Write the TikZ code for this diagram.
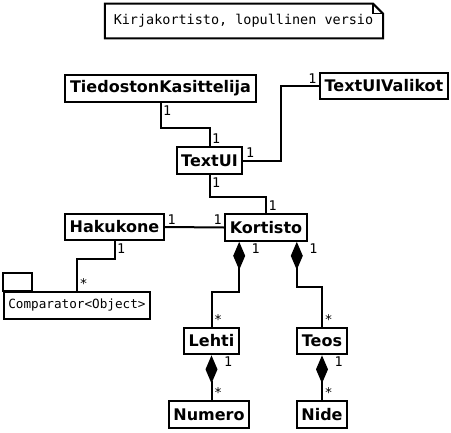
\documentclass[tikz,border=0pt]{standalone}
\usepackage{fontspec}
\setsansfont{DejaVu Sans}
\setmonofont{DejaVu Sans Mono}
\usetikzlibrary{arrows.meta}

\tikzset{
  luokka/.style={draw, line width=1.5pt, font=\sffamily\bfseries\fontsize{12}{14}\selectfont, inner xsep=3.5pt, minimum height=20pt},
  liitos/.style={line width=1.5pt},
  kooste/.style={liitos, {Diamond[length=21pt, width=9pt]}-},
  lkm/.style={font=\ttfamily\fontsize{10}{11}\selectfont, inner sep=1.2pt},
}

\begin{document}
\begin{tikzpicture}[x=0.75pt, y=-0.75pt]
  \useasboundingbox (0,0) rectangle (451,433);

  % Note
  \node[font=\ttfamily\fontsize{10.1}{12}\selectfont, minimum width=209pt, minimum height=25.5pt] (note) at (243.5,21) {Kirjakortisto, lopullinen versio};
  \draw[line width=1.5pt] ([xshift=0.75pt]note.north west) -- ([xshift=-7.5pt]note.north east) -- ([yshift=-7.5pt]note.north east) -- (note.south east) -- ([xshift=0.75pt]note.south west) -- cycle;
  \draw[line width=1pt] ([xshift=-7.5pt]note.north east) -- ([xshift=-7.5pt, yshift=-7.5pt]note.north east) -- ([yshift=-7.5pt]note.north east);

  % Classes
  \node[luokka] (tk) at (160.5,88.5) {TiedostonKasittelija};
  \node[luokka] (tuv) at (384,86) {TextUIValikot};
  \node[luokka] (tui) at (209.5,160.5) {TextUI};
  \node[luokka] (hak) at (114.5,227) {Hakukone};
  \node[luokka] (kor) at (266,227.5) {Kortisto};
  \node[luokka, font=\ttfamily\fontsize{9.5}{11}\selectfont] (comp) at (77,305.5) {Comparator<Object>};
  \draw[line width=1.5pt] (comp.north west) rectangle ++(29,-18);
  \node[luokka] (leh) at (211.5,341) {Lehti};
  \node[luokka] (teo) at (322,341) {Teos};
  \node[luokka] (num) at (209,414.5) {Numero};
  \node[luokka] (nid) at (322,414.5) {Nide};

  % Associations
  \draw[liitos] (tk.south) node[lkm, anchor=north west] {1} -- ++(0,25) -| (tui.north) node[lkm, anchor=south west] {1};
  \draw[liitos] (tui.east) node[lkm, anchor=south west] {1} -- ++(38,0) |- (tuv.west) node[lkm, anchor=south east] {1};
  \draw[liitos] (tui.south) node[lkm, anchor=north west] {1} -- ++(0,22) -| (kor.north) node[lkm, anchor=south west] {1};
  \draw[liitos] (hak.east) node[lkm, anchor=south west] {1} -- (kor.west) node[lkm, anchor=south east] {1};
  \draw[liitos] (hak.south) node[lkm, anchor=north west] {1} -- ++(0,18) -| (comp.north) node[lkm, anchor=south west] {*};

  % Compositions
  \coordinate (korL) at ([xshift=11.25pt]kor.south west);
  \coordinate (korT) at ([xshift=-8.25pt]kor.south east);
  \draw[kooste] (korL) -- ++(0,50) -| (leh.north) node[lkm, anchor=south west] {*};
  \node[lkm, anchor=north west, xshift=8pt] at (korL) {1};
  \draw[kooste] (korT) -- ++(0,45) -| (teo.north) node[lkm, anchor=south west] {*};
  \node[lkm, anchor=north west, xshift=8pt] at (korT) {1};
  \draw[kooste] (leh.south) -- (leh.south |- num.north) node[lkm, anchor=south west] {*};
  \node[lkm, anchor=north west, xshift=8pt] at (leh.south) {1};
  \draw[kooste] (teo.south) -- (teo.south |- nid.north) node[lkm, anchor=south west] {*};
  \node[lkm, anchor=north west, xshift=8pt] at (teo.south) {1};
\end{tikzpicture}
\end{document}
